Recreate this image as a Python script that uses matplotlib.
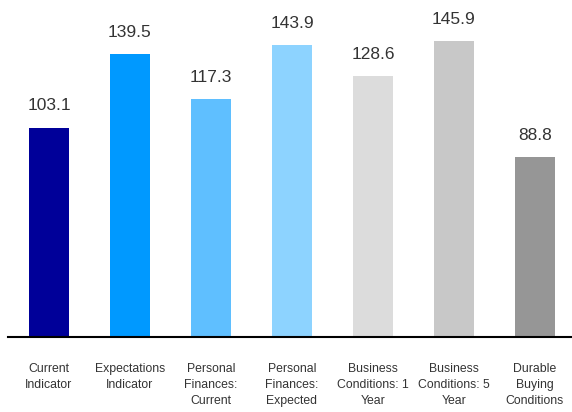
import matplotlib.pyplot as plt

categories = ['Current\nIndicator', 'Expectations\nIndicator', 'Personal\nFinances:\nCurrent',
              'Personal\nFinances:\nExpected', 'Business\nConditions: 1\nYear',
              'Business\nConditions: 5\nYear', 'Durable\nBuying\nConditions']
values = [103.1, 139.5, 117.3, 143.9, 128.6, 145.9, 88.8]
colors = ['#000099', '#0099FF', '#5FBFFF', '#8DD3FF', '#DCDCDC', '#C8C8C8', '#969696']

plt.rcParams['font.family'] = ['Liberation Sans', 'DejaVu Sans']

fig = plt.figure(figsize=(5.72, 4.12), dpi=100)
ax = fig.add_axes([8 / 572, 75 / 412, 564 / 572, 337 / 412])

x = range(len(values))
bars = ax.bar(x, values, width=0.5, color=colors)
for i, v in enumerate(values):
    ax.text(i, v + 7, f'{v:.1f}', ha='center', va='bottom', fontsize=12.5, color='#333333')

ax.set_xlim(-0.506, 6.457)
ax.set_ylim(0, 166)
ax.set_xticks(list(x))
ax.set_xticklabels(categories, fontsize=8.8, color='#333333', linespacing=1.4, va='top')
ax.tick_params(axis='x', length=0, pad=19)
ax.set_yticks([])
for s in ['top', 'left', 'right']:
    ax.spines[s].set_visible(False)
ax.spines['bottom'].set_linewidth(1.5)

fig.savefig('out.png', dpi=100)
